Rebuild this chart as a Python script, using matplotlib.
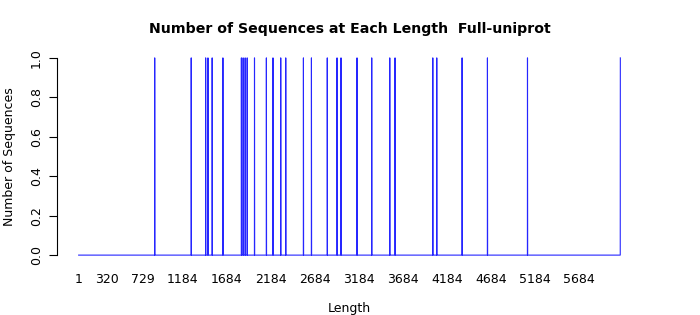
import numpy as np
import matplotlib
matplotlib.use('Agg')
import matplotlib.pyplot as plt

# lengths at which a sequence occurs (count 1 each)
spike_lengths = [865, 1280, 1444, 1470, 1518, 1640, 1850, 1870, 1893, 1916,
                 1999, 2134, 2209, 2297, 2354, 2555, 2646, 2826, 2937, 2982,
                 3164, 3331, 3536, 3596, 4025, 4070, 4358, 4646, 5101, 6156]
spike_counts = [1] * len(spike_lengths)
min_len = 1
max_len = 6156
xtick_vals = [1, 320, 729, 1184, 1684, 2184, 2684, 3184, 3684, 4184, 4684, 5184, 5684]
ytick_vals = [0.0, 0.2, 0.4, 0.6, 0.8, 1.0]

lengths = np.arange(min_len, max_len + 1)
counts = np.zeros(len(lengths))
for L, c in zip(spike_lengths, spike_counts):
    counts[L - min_len] = c

fig = plt.figure(figsize=(7, 3.15), dpi=100)
ax = fig.add_axes([57/700, 52/315, 585/700, 213/315])

ax.plot(lengths, counts, color='#0000ff', lw=0.8, alpha=0.85)

span = max_len - min_len
ax.set_xlim(min_len - 0.04*span, max_len + 0.04*span)
ax.set_ylim(-0.04, 1.04)

for s in ['top', 'right', 'bottom']:
    ax.spines[s].set_visible(False)
ax.spines['left'].set_bounds(0, 1)
ax.spines['left'].set_linewidth(0.8)

ax.set_xticks(xtick_vals)
ax.set_xticklabels([str(v) for v in xtick_vals], fontsize=9)
ax.tick_params(axis='x', length=0, pad=7)
ax.set_yticks(ytick_vals)
ax.set_yticklabels(['%.1f' % v for v in ytick_vals], fontsize=9, rotation=90, va='center')
ax.tick_params(axis='y', length=6, width=0.8, pad=4)

ax.set_xlabel('Length', fontsize=9, labelpad=12)
ax.set_ylabel('Number of Sequences', fontsize=9, labelpad=10)
fig.suptitle('Number of Sequences at Each Length  Full-uniprot', fontsize=10.2,
             fontweight='bold', y=0.93)

plt.savefig('out.png', dpi=100)
